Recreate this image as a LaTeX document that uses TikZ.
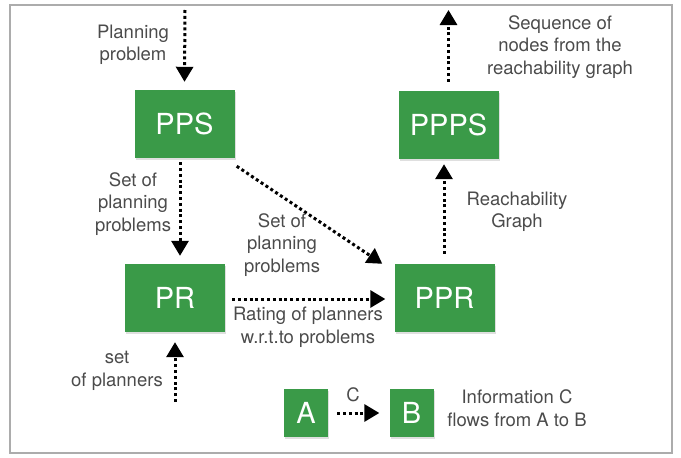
\documentclass[tikz,border=0pt]{standalone}
\usepackage{fontspec}
\setmainfont{TeX Gyre Heros}
\usetikzlibrary{arrows.meta}
\usetikzlibrary{shadows}
\definecolor{boxgreen}{RGB}{58,154,72}
\definecolor{txtgray}{RGB}{75,75,75}

\tikzset{
  box/.style={fill=boxgreen, text=white, inner sep=0pt,
    minimum width=100pt, minimum height=68pt,
    font=\fontsize{29}{30}\selectfont,
    drop shadow={opacity=0.25, shadow xshift=1pt, shadow yshift=-1.5pt}},
  smallbox/.style={box, minimum width=44pt, minimum height=48pt},
  lbl/.style={text=txtgray, align=center, inner sep=0pt,
    font=\fontsize{18.5}{22.5}\selectfont},
  flow/.style={line width=3pt, dash pattern=on 3pt off 2.8pt,
    -{Triangle[length=15pt,width=17pt]}}
}

\begin{document}
\begin{tikzpicture}[x=1pt,y=-1pt]
\useasboundingbox (0,0) rectangle (681,458);

%frame
\draw[gray!65, line width=2.5pt] (10,5) rectangle (672,453);

%boxes
\node[box] (pps) at (184.5,124) {PPS};
\node[box] (ppps) at (448.5,125) {PPPS};
\node[box] (pr) at (175,298) {PR};
\node[box] (ppr) at (444.5,298) {PPR};
\node[smallbox] (a) at (306,413) {A};
\node[smallbox] (b) at (411.5,413) {B};

%free ends
\coordinate (probin) at (185,10);
\coordinate (plannersin) at (175,402);
\coordinate (seqout) at (448.5,10);

%flows
\draw[flow] (probin) -- ([yshift=8pt]pps.north);
\draw[flow] ([xshift=-4.5pt,yshift=-4pt]pps.south) -- ([xshift=5pt,yshift=8pt]pr.north);
\draw[flow] ([xshift=2pt,yshift=-8pt]pps.south east) -- ([xshift=-12pt]ppr.north west);
\draw[flow] ([xshift=7pt,yshift=-1pt]pr.east) -- ([xshift=-9pt,yshift=-1pt]ppr.west);
\draw[flow] (plannersin) -- ([yshift=-10pt]pr.south);
\draw[flow] ([xshift=-0.5pt,yshift=10pt]ppr.north) -- ([xshift=-4.5pt,yshift=-5pt]ppps.south);
\draw[flow] ([yshift=9pt]ppps.north) -- (seqout);
\draw[flow] ([xshift=9pt]a.east) -- ([xshift=-10pt]b.west);

%labels
\node[lbl] (lprob) at (133,45) {Planning\\problem};
\node[lbl] (lset1) at (133,204) {Set of\\planning\\problems};
\node[lbl] (lset2) at (282,245) {Set of\\planning\\problems};
\node[lbl] (lrate) at (308,327) {Rating of planners\\w.r.t.to problems};
\node[lbl] (lplan) at (117,371) {set\\of planners};
\node[lbl] (lreach) at (517,212) {Reachability\\Graph};
\node[lbl] (lseq) at (560,47) {Sequence of\\nodes from the\\reachability graph};
\node[lbl] (lc) at (353,395) {C};
\node[lbl] (linfo) at (517,408) {Information C\\flows from A to B};

\end{tikzpicture}
\end{document}
